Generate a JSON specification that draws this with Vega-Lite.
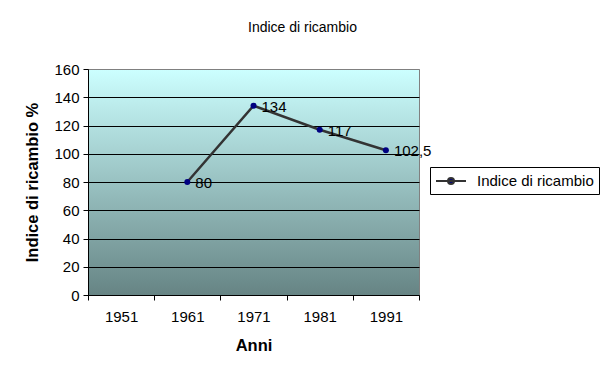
{
  "$schema": "https://vega.github.io/schema/vega-lite/v6.json",
  "width": 331,
  "height": 226,
  "autosize": {"type": "none"},
  "padding": {"left": 88, "top": 69, "right": 186, "bottom": 80},
  "background": "white",
  "config": {
    "font": "Liberation Sans",
    "view": {
      "stroke": "#808080",
      "strokeWidth": 1,
      "fill": {
        "gradient": "linear",
        "x1": 0, "y1": 0, "x2": 0, "y2": 1,
        "stops": [
          {"offset": 0, "color": "#CCFFFF"},
          {"offset": 1, "color": "#668484"}
        ]
      }
    },
    "axis": {
      "domainColor": "black",
      "tickColor": "black",
      "labelColor": "black",
      "titleColor": "black",
      "labelFont": "Liberation Sans",
      "titleFont": "Liberation Sans",
      "labelFontSize": 15,
      "titleFontSize": 16.5,
      "titleFontWeight": "bold",
      "tickSize": 5
    }
  },
  "title": {
    "text": "Indice di ricambio",
    "font": "Liberation Sans",
    "fontSize": 14,
    "fontWeight": "normal",
    "color": "black",
    "anchor": "middle",
    "dx": 49,
    "baseline": "bottom",
    "offset": 13
  },
  "data": {
    "values": [
      {"anno": "1961", "valore": 80, "etichetta": "80", "serie": "Indice di ricambio"},
      {"anno": "1971", "valore": 134, "etichetta": "134", "serie": "Indice di ricambio"},
      {"anno": "1981", "valore": 117, "etichetta": "117", "serie": "Indice di ricambio"},
      {"anno": "1991", "valore": 102.5, "etichetta": "102,5", "serie": "Indice di ricambio"}
    ]
  },
  "encoding": {
    "x": {
      "field": "anno",
      "type": "ordinal",
      "bandPosition": 0.5,
      "scale": {"type": "band", "domain": ["1951", "1961", "1971", "1981", "1991"], "paddingInner": 0, "paddingOuter": 0},
      "axis": {
        "title": "Anni",
        "labelAngle": 0,
        "tickBand": "extent",
        "grid": false,
        "labelPadding": 9,
        "titlePadding": 13
      }
    },
    "y": {
      "field": "valore",
      "type": "quantitative",
      "scale": {"domain": [0, 160], "nice": false, "zero": true},
      "axis": {
        "title": "Indice di ricambio %",
        "values": [0, 20, 40, 60, 80, 100, 120, 140, 160],
        "grid": true,
        "gridColor": {"condition": {"test": "datum.value == 160", "value": "#808080"}, "value": "black"},
        "gridOpacity": 1,
        "labelPadding": 4,
        "titlePadding": 13
      }
    }
  },
  "layer": [
    {
      "mark": {"type": "line", "strokeWidth": 2.5},
      "encoding": {
        "color": {
          "field": "serie",
          "type": "nominal",
          "scale": {"range": ["#333333"]},
          "legend": {
            "title": null,
            "orient": "none",
            "legendX": 342,
            "legendY": 98,
            "strokeColor": "black",
            "fillColor": "white",
            "padding": 5,
            "cornerRadius": 0,
            "labelFont": "Liberation Sans",
            "labelFontSize": 15,
            "labelColor": "black",
            "labelOffset": 24,
            "symbolType": "M-1,0H2.75M0.5,0A0.375,0.375 0 1,0 1.25,0A0.375,0.375 0 1,0 0.5,0Z",
            "symbolSize": 256,
            "symbolStrokeWidth": 2,
            "encode": {
              "symbols": {
                "update": {
                  "fill": {"value": "#000080"},
                  "stroke": {"value": "#000040"},
                  "opacity": {"value": 1}
                }
              }
            }
          }
        }
      }
    },
    {
      "mark": {"type": "point", "filled": true, "size": 36, "color": "#000080", "opacity": 1}
    },
    {
      "mark": {"type": "text", "align": "left", "baseline": "middle", "dx": 8, "dy": 1, "fontSize": 15, "font": "Liberation Sans", "color": "black"},
      "encoding": {"text": {"field": "etichetta", "type": "nominal"}}
    }
  ]
}
